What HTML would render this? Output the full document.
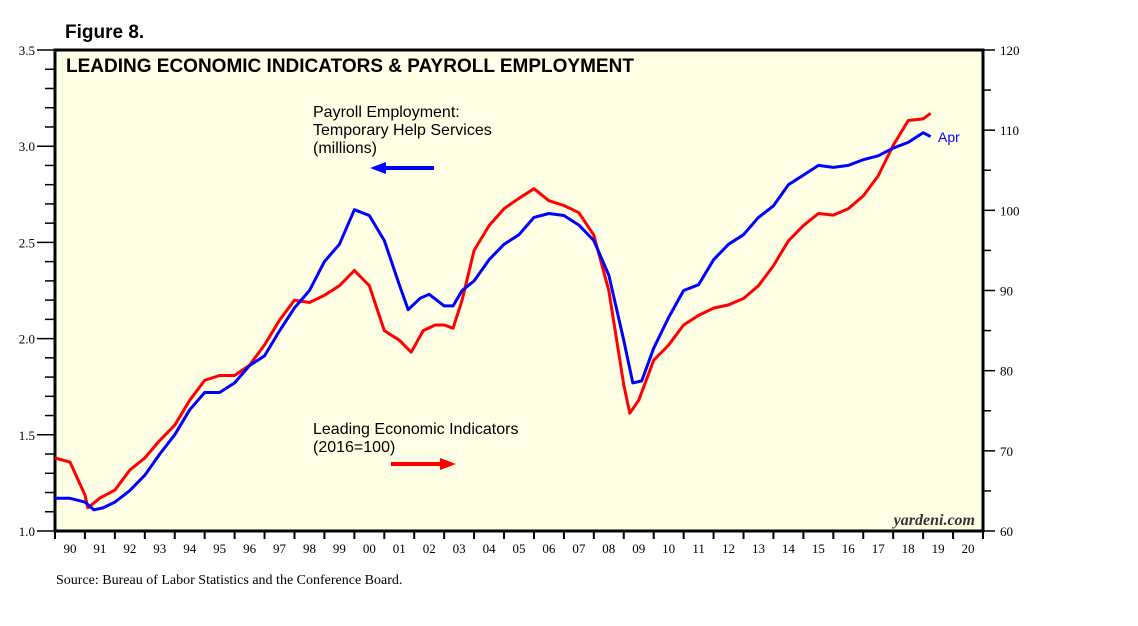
<!DOCTYPE html>
<html><head><meta charset="utf-8"><style>
body{margin:0;background:#fff;}
svg text{font-family:"Liberation Sans",sans-serif;}
.serif{font-family:"Liberation Serif",serif;}
</style></head><body>
<svg id="chart" width="1138" height="621" viewBox="0 0 1138 621" xmlns="http://www.w3.org/2000/svg">
<text x="65" y="38" font-size="19" font-weight="bold">Figure 8.</text>
<rect x="55" y="50" width="928" height="481" fill="#ffffe6" stroke="#000" stroke-width="3"/>
<text x="66" y="72" font-size="19" font-weight="bold">LEADING ECONOMIC INDICATORS &amp; PAYROLL EMPLOYMENT</text>
<g id="axes"></g>
<g id="series"></g>
<text font-size="16" fill="#000"><tspan x="313" y="117">Payroll Employment:</tspan><tspan x="313" y="135">Temporary Help Services</tspan><tspan x="313" y="153">(millions)</tspan></text>
<g><line x1="434" y1="168" x2="382" y2="168" stroke="#0000ff" stroke-width="4"/><polygon points="370,168 386,162 386,174" fill="#0000ff"/></g>
<text font-size="16" fill="#000"><tspan x="313" y="434">Leading Economic Indicators</tspan><tspan x="313" y="452">(2016=100)</tspan></text>
<g><line x1="391" y1="464" x2="444" y2="464" stroke="#ff0000" stroke-width="4"/><polygon points="456,464 440,458 440,470" fill="#ff0000"/></g>
<text x="938" y="142" font-size="14" fill="#0000ff">Apr</text>
<text class="serif" x="975" y="525" font-size="16" font-style="italic" font-weight="bold" text-anchor="end" fill="#333">yardeni.com</text>
<text class="serif" x="56" y="584" font-size="14">Source: Bureau of Labor Statistics and the Conference Board.</text>
</svg>
<script>
const tempYears=[1990,1990.5,1991,1991.3,1991.6,1992,1992.5,1993,1993.5,1994,1994.5,1995,1995.5,1996,1996.5,1997,1997.5,1998,1998.5,1999,1999.5,2000,2000.5,2001,2001.5,2001.8,2002.2,2002.5,2003,2003.3,2003.6,2004,2004.5,2005,2005.5,2006,2006.5,2007,2007.5,2008,2008.5,2009,2009.3,2009.6,2010,2010.5,2011,2011.5,2012,2012.5,2013,2013.5,2014,2014.5,2015,2015.5,2016,2016.5,2017,2017.5,2018,2018.5,2019,2019.25];
const tempValues=[1.17,1.17,1.15,1.11,1.12,1.15,1.21,1.29,1.40,1.50,1.63,1.72,1.72,1.77,1.86,1.91,2.04,2.16,2.25,2.40,2.49,2.67,2.64,2.51,2.28,2.15,2.21,2.23,2.17,2.17,2.25,2.30,2.41,2.49,2.54,2.63,2.65,2.64,2.59,2.51,2.33,1.99,1.77,1.78,1.95,2.11,2.25,2.28,2.41,2.49,2.54,2.63,2.69,2.80,2.85,2.90,2.89,2.90,2.93,2.95,2.99,3.02,3.07,3.05];
const leiYears=[1990,1990.5,1991,1991.1,1991.5,1992,1992.5,1993,1993.5,1994,1994.5,1995,1995.5,1996,1996.5,1997,1997.5,1998,1998.5,1999,1999.5,2000,2000.5,2001,2001.5,2001.9,2002.3,2002.7,2003,2003.3,2003.6,2004,2004.5,2005,2005.5,2006,2006.5,2007,2007.5,2008,2008.5,2009,2009.2,2009.5,2010,2010.5,2011,2011.5,2012,2012.5,2013,2013.5,2014,2014.5,2015,2015.5,2016,2016.5,2017,2017.5,2018,2018.5,2019,2019.25];
const leiValues=[69.1,68.6,64.5,62.9,64.1,65.1,67.6,69.1,71.3,73.2,76.3,78.8,79.4,79.4,80.7,83.2,86.3,88.8,88.5,89.4,90.6,92.5,90.6,85.0,83.8,82.3,85.0,85.7,85.7,85.3,88.8,95.0,98.1,100.2,101.5,102.7,101.2,100.6,99.7,96.9,90.0,78.2,74.7,76.3,81.3,83.2,85.7,86.9,87.8,88.2,89.0,90.6,93.1,96.2,98.1,99.6,99.4,100.2,101.8,104.3,108.1,111.2,111.4,112.1];
const leftTicks=["1.0","1.5","2.0","2.5","3.0","3.5"];
const rightTicks=["60","70","80","90","100","110","120"];
const yearLabels=["90","91","92","93","94","95","96","97","98","99","00","01","02","03","04","05","06","07","08","09","10","11","12","13","14","15","16","17","18","19","20"];

const X0=55,X1=983,Y0=531,Y1=50;
const NS="http://www.w3.org/2000/svg";
const xs=y=>X0+(y-1990)/31*(X1-X0);
const yl=v=>Y0-(v-1)/2.5*(Y0-Y1);
const yr=v=>Y0-(v-60)/60*(Y0-Y1);
function mk(tag,attrs,parent){const e=document.createElementNS(NS,tag);for(const k in attrs)e.setAttribute(k,attrs[k]);parent.appendChild(e);return e;}
const axes=document.getElementById('axes'),ser=document.getElementById('series');
for(let v=1;v<=3.501;v+=0.1){const y=yl(v);const major=Math.abs(v*2-Math.round(v*2))<0.01;
 const t=mk('line',{x1:X0-(major?18:10),x2:X0,y1:y,y2:y,stroke:'#000','stroke-width':1.5},axes);
 
 }
leftTicks.forEach(s=>{const t=mk('text',{x:X0-20,y:yl(+s)+5,'font-size':13,'text-anchor':'end',class:'serif'},axes);t.textContent=s;
 
 });
for(let v=60;v<=120;v+=5){const y=yr(v);const major=v%10==0;
 const t=mk('line',{x1:X1,x2:X1+(major?12:8),y1:y,y2:y,stroke:'#000','stroke-width':1.5},axes);
 
 }
rightTicks.forEach(s=>{const t=mk('text',{x:X1+17,y:yr(+s)+5,'font-size':13,class:'serif'},axes);t.textContent=s;
 
 });
yearLabels.forEach((s,i)=>{const x=xs(1990+i);
 const t=mk('line',{x1:x,x2:x,y1:Y0,y2:Y0+8,stroke:'#000','stroke-width':2},axes);
 
 
 const l=mk('text',{x:xs(1990.5+i),y:Y0+22,'font-size':13,'text-anchor':'middle',class:'serif'},axes);l.textContent=s;
 
 });
{const t=mk('line',{x1:X1,x2:X1,y1:Y0,y2:Y0+8,stroke:'#000','stroke-width':2},axes);
 
 }
const lp=leiYears.map((y,i)=>xs(y).toFixed(1)+','+yr(leiValues[i]).toFixed(1)).join(' ');
const r=mk('polyline',{points:lp,fill:'none',stroke:'#ff0000','stroke-width':3,'stroke-linejoin':'round'},ser);


const bp=tempYears.map((y,i)=>xs(y).toFixed(1)+','+yl(tempValues[i]).toFixed(1)).join(' ');
const b=mk('polyline',{points:bp,fill:'none',stroke:'#0000ff','stroke-width':3,'stroke-linejoin':'round'},ser);


</script>
</body></html>
